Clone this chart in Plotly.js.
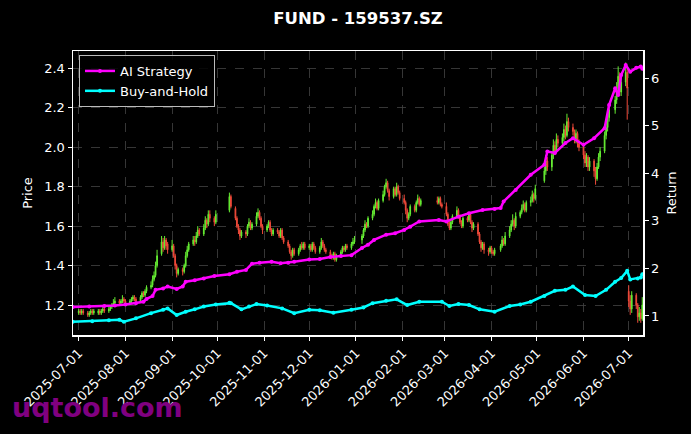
<!DOCTYPE html>
<html>
<head>
<meta charset="utf-8">
<script src="https://cdn.plot.ly/plotly-3.0.1.min.js"></script>
<style>
html,body{margin:0;padding:0;background:#000;}
#chart{width:691px;height:434px;}
</style>
</head>
<body>
<div id="chart"></div>
<script>
// ---------- DATA ----------
const holidays = [
  '2025-10-01','2025-10-02','2025-10-03','2025-10-06','2025-10-07','2025-10-08',
  '2026-01-01','2026-01-02',
  '2026-02-16','2026-02-17','2026-02-18','2026-02-19','2026-02-20','2026-02-23',
  '2026-04-06','2026-05-01','2026-05-04','2026-05-05','2026-06-19'
];
const firstDay = '2025-07-01';
const lastDay = '2026-07-10';

// Daily OHLC (trading days, month by month)
const openP = [
  // Jul 2025
  1.16,1.17,1.16,1.17, 1.16,1.15,1.16,1.17,1.16, 1.16,1.17,1.16,1.17,1.18, 1.17,1.18,1.19,1.20,1.21, 1.22,1.21,1.22,1.23,
  // Aug
  1.22, 1.21,1.22,1.23,1.24,1.23, 1.22,1.24,1.26,1.25,1.27, 1.29,1.30,1.33,1.35,1.40, 1.46,1.52,1.49,1.53,1.51,
  // Sep
  1.48,1.50,1.45,1.40,1.36, 1.38,1.37,1.40,1.45,1.48, 1.51,1.53,1.52,1.55,1.58, 1.56,1.59,1.63,1.61,1.66, 1.64,1.62,
  // Oct
  1.68,1.75, 1.69,1.64,1.60,1.58,1.55, 1.57,1.56,1.60,1.62,1.59, 1.61,1.65,1.67,1.64,1.60,
  // Nov
  1.58,1.60,1.62,1.58,1.56, 1.58,1.57,1.55,1.58,1.54, 1.52,1.50,1.47,1.45,1.48, 1.46,1.48,1.50,1.49,1.51,
  // Dec
  1.49,1.50,1.48,1.51,1.49, 1.47,1.49,1.52,1.50,1.48, 1.47,1.45,1.44,1.46,1.43, 1.45,1.47,1.49,1.48,1.50, 1.49,1.51,1.52,
  // Jan 2026
  1.53,1.55,1.58,1.61,1.60, 1.64,1.66,1.70,1.72,1.69, 1.73,1.76,1.80,1.82,1.78, 1.75,1.79,1.76,1.80,1.77,
  // Feb
  1.74,1.72,1.68,1.64,1.66, 1.70,1.68,1.72,1.74,1.71, 1.73,1.72,1.74,1.71,
  // Mar
  1.70,1.66,1.61,1.59,1.62, 1.65,1.68,1.65,1.62,1.60, 1.64,1.63,1.66,1.62,1.59, 1.61,1.56,1.52,1.49,1.51, 1.48,1.47,
  // Apr
  1.49,1.47,1.46, 1.48,1.50,1.53,1.51, 1.55,1.58,1.61,1.63,1.60, 1.65,1.67,1.69,1.71,1.68, 1.72,1.73,1.76,1.74,
  // May
  1.83,1.88,1.93, 1.90,1.96,2.01,1.98,2.04, 2.02,2.05,2.09,2.06,2.13, 2.10,2.08,2.04,2.07,2.02,
  // Jun
  2.00,1.96,1.92,1.95,1.90, 1.93,1.88,1.84,1.90,1.95, 1.98,2.06,2.10,2.15, 2.19,2.24,2.30,2.36,2.28, 2.33,2.38,
  // Jul
  1.27,1.22,1.18, 1.25,1.20,1.14,1.16,1.13
];
const highP = [
  1.18,1.18,1.18,1.18, 1.17,1.17,1.18,1.18,1.18, 1.18,1.18,1.18,1.19,1.19, 1.19,1.20,1.21,1.23,1.24, 1.23,1.23,1.25,1.24,
  1.23, 1.23,1.24,1.25,1.25,1.24, 1.25,1.27,1.27,1.28,1.30, 1.32,1.35,1.37,1.42,1.48, 1.55,1.54,1.55,1.54,1.52,
  1.53,1.51,1.46,1.41,1.39, 1.39,1.41,1.47,1.50,1.52, 1.55,1.55,1.57,1.60,1.59, 1.61,1.65,1.64,1.68,1.68, 1.65,1.68,
  1.77,1.76, 1.70,1.65,1.61,1.59,1.58, 1.58,1.61,1.64,1.63,1.62, 1.67,1.69,1.68,1.65,1.61,
  1.61,1.63,1.63,1.59,1.59, 1.59,1.58,1.59,1.59,1.55, 1.53,1.51,1.48,1.49,1.49, 1.49,1.51,1.52,1.52,1.52,
  1.51,1.51,1.52,1.52,1.50, 1.50,1.54,1.53,1.51,1.49, 1.48,1.46,1.47,1.47,1.46, 1.48,1.50,1.50,1.51,1.51, 1.52,1.54,1.55,
  1.56,1.59,1.63,1.62,1.65, 1.68,1.71,1.74,1.73,1.74, 1.78,1.81,1.84,1.83,1.79, 1.80,1.80,1.82,1.81,1.78,
  1.76,1.73,1.69,1.67,1.71, 1.71,1.73,1.76,1.75,1.74, 1.75,1.75,1.75,1.72,
  1.72,1.67,1.63,1.63,1.66, 1.70,1.69,1.66,1.63,1.65, 1.65,1.67,1.67,1.63,1.62, 1.62,1.57,1.53,1.52,1.52, 1.49,1.50,
  1.50,1.48,1.49, 1.51,1.55,1.54,1.57, 1.60,1.63,1.66,1.64,1.67, 1.68,1.71,1.73,1.72,1.73, 1.75,1.78,1.77,1.81,
  1.90,1.96,1.95, 1.98,2.04,2.03,2.07,2.06, 2.07,2.12,2.11,2.17,2.15, 2.12,2.09,2.09,2.08,2.04,
  2.02,1.98,1.97,1.96,1.95, 1.94,1.90,1.92,1.97,2.00, 2.08,2.13,2.17,2.22, 2.26,2.33,2.41,2.38,2.35, 2.43,2.40,
  1.30,1.25,1.27, 1.26,1.21,1.19,1.18,1.24
];
const lowP = [
  1.15,1.15,1.15,1.15, 1.14,1.14,1.15,1.15,1.15, 1.15,1.15,1.15,1.16,1.16, 1.16,1.17,1.18,1.19,1.20, 1.20,1.20,1.21,1.21,
  1.20, 1.20,1.21,1.22,1.22,1.21, 1.21,1.23,1.24,1.24,1.26, 1.28,1.29,1.32,1.34,1.39, 1.45,1.47,1.48,1.48,1.46,
  1.47,1.44,1.38,1.34,1.35, 1.35,1.36,1.39,1.44,1.47, 1.50,1.50,1.51,1.54,1.55, 1.55,1.58,1.59,1.60,1.62, 1.60,1.61,
  1.67,1.69, 1.63,1.59,1.56,1.53,1.54, 1.54,1.55,1.59,1.58,1.58, 1.60,1.64,1.63,1.59,1.56,
  1.57,1.59,1.57,1.55,1.55, 1.56,1.54,1.54,1.53,1.51, 1.49,1.46,1.43,1.44,1.45, 1.45,1.47,1.48,1.48,1.48,
  1.48,1.47,1.47,1.48,1.46, 1.46,1.48,1.49,1.47,1.46, 1.44,1.43,1.43,1.42,1.42, 1.44,1.46,1.47,1.47,1.48, 1.48,1.50,1.51,
  1.51,1.54,1.57,1.59,1.59, 1.63,1.65,1.69,1.68,1.68, 1.72,1.75,1.79,1.77,1.73, 1.74,1.75,1.75,1.76,1.73,
  1.71,1.66,1.62,1.63,1.65, 1.67,1.67,1.71,1.70,1.70, 1.71,1.71,1.70,1.69,
  1.65,1.60,1.58,1.58,1.61, 1.64,1.64,1.61,1.59,1.59, 1.62,1.62,1.61,1.57,1.58, 1.55,1.51,1.47,1.48,1.46, 1.45,1.46,
  1.46,1.45,1.45, 1.47,1.49,1.50,1.50, 1.54,1.57,1.60,1.58,1.59, 1.64,1.66,1.68,1.67,1.67, 1.70,1.72,1.72,1.73,
  1.82,1.86,1.88, 1.88,1.94,1.96,1.97,2.00, 2.00,2.03,2.04,2.05,2.08, 2.06,2.02,2.02,2.00,1.98,
  1.94,1.90,1.90,1.88,1.88, 1.85,1.81,1.83,1.89,1.93, 1.97,2.04,2.08,2.13, 2.17,2.22,2.28,2.26,2.26, 2.31,2.14,
  1.19,1.15,1.16, 1.18,1.11,1.12,1.11,1.12
];
const closeP = [
  1.17,1.16,1.17,1.16, 1.15,1.16,1.17,1.16,1.17, 1.17,1.16,1.17,1.18,1.17, 1.18,1.19,1.20,1.21,1.22, 1.21,1.22,1.23,1.22,
  1.21, 1.22,1.23,1.24,1.23,1.22, 1.24,1.26,1.25,1.27,1.29, 1.30,1.33,1.35,1.40,1.45, 1.52,1.49,1.53,1.50,1.48,
  1.50,1.45,1.40,1.36,1.38, 1.37,1.40,1.45,1.48,1.51, 1.53,1.52,1.55,1.58,1.56, 1.59,1.63,1.61,1.66,1.64, 1.62,1.66,
  1.75,1.70, 1.64,1.60,1.58,1.55,1.57, 1.56,1.60,1.62,1.59,1.61, 1.65,1.67,1.64,1.60,1.58,
  1.60,1.62,1.58,1.56,1.58, 1.57,1.55,1.58,1.54,1.52, 1.50,1.47,1.45,1.48,1.46, 1.48,1.50,1.49,1.51,1.49,
  1.50,1.48,1.51,1.49,1.47, 1.49,1.52,1.50,1.48,1.47, 1.45,1.44,1.46,1.43,1.45, 1.47,1.49,1.48,1.50,1.49, 1.51,1.52,1.53,
  1.55,1.58,1.61,1.60,1.64, 1.66,1.70,1.72,1.69,1.73, 1.76,1.80,1.82,1.78,1.75, 1.79,1.76,1.80,1.77,1.74,
  1.72,1.68,1.64,1.66,1.70, 1.68,1.72,1.74,1.71,1.73, 1.72,1.74,1.71,1.70,
  1.66,1.61,1.59,1.62,1.65, 1.68,1.65,1.62,1.60,1.64, 1.63,1.66,1.62,1.59,1.61, 1.56,1.52,1.49,1.51,1.48, 1.47,1.49,
  1.47,1.46,1.48, 1.50,1.53,1.51,1.55, 1.58,1.61,1.63,1.60,1.65, 1.67,1.69,1.71,1.68,1.72, 1.73,1.76,1.74,1.79,
  1.88,1.93,1.90, 1.96,2.01,1.98,2.04,2.02, 2.05,2.09,2.06,2.13,2.10, 2.08,2.04,2.07,2.02,2.00,
  1.96,1.92,1.95,1.90,1.93, 1.88,1.84,1.90,1.95,1.98, 2.06,2.10,2.15,2.19, 2.24,2.30,2.36,2.28,2.33, 2.38,2.30,
  1.22,1.18,1.25, 1.20,1.14,1.16,1.13,1.20
];

// Strategy returns (right axis)
const aiDates = ['2025-06-27','2025-07-08','2025-07-18','2025-07-25','2025-08-01','2025-08-08','2025-08-13','2025-08-15','2025-08-19','2025-08-21','2025-08-26','2025-08-29','2025-09-04','2025-09-08','2025-09-10','2025-09-16','2025-09-22','2025-09-29','2025-10-09','2025-10-14','2025-10-20','2025-10-24','2025-10-29','2025-11-06','2025-11-12','2025-11-17','2025-11-21','2025-12-01','2025-12-08','2025-12-15','2025-12-22','2025-12-29','2026-01-05','2026-01-09','2026-01-13','2026-01-21','2026-01-27','2026-02-02','2026-02-06','2026-02-12','2026-02-25','2026-03-02','2026-03-10','2026-03-17','2026-03-26','2026-04-03','2026-04-07','2026-04-09','2026-04-17','2026-04-27','2026-05-06','2026-05-08','2026-05-13','2026-05-20','2026-05-25','2026-06-01','2026-06-08','2026-06-15','2026-06-18','2026-06-22','2026-06-24','2026-06-26','2026-06-29','2026-07-02','2026-07-06','2026-07-09','2026-07-10'];
const aiValues = [1.19,1.20,1.21,1.22,1.24,1.27,1.30,1.36,1.42,1.55,1.58,1.62,1.57,1.62,1.72,1.75,1.79,1.84,1.88,1.93,1.97,2.10,2.12,2.14,2.11,2.12,2.14,2.19,2.20,2.24,2.26,2.28,2.43,2.50,2.60,2.71,2.74,2.81,2.88,2.99,3.02,2.99,3.09,3.16,3.23,3.25,3.27,3.41,3.65,3.97,4.18,4.46,4.43,4.64,4.74,4.60,4.74,4.95,5.44,5.79,5.65,6.07,6.28,6.14,6.22,6.25,6.20];

const bhDates = ['2025-06-27','2025-07-10','2025-07-21','2025-07-28','2025-07-31','2025-08-08','2025-08-18','2025-08-26','2025-08-29','2025-09-04','2025-09-10','2025-09-16','2025-09-22','2025-09-30','2025-10-09','2025-10-10','2025-10-17','2025-10-22','2025-10-27','2025-11-03','2025-11-13','2025-11-21','2025-12-01','2025-12-08','2025-12-17','2025-12-29','2026-01-06','2026-01-12','2026-01-21','2026-01-28','2026-02-04','2026-02-12','2026-02-27','2026-03-04','2026-03-10','2026-03-17','2026-03-24','2026-04-03','2026-04-13','2026-04-20','2026-04-27','2026-05-06','2026-05-13','2026-05-20','2026-05-25','2026-06-02','2026-06-09','2026-06-16','2026-06-22','2026-06-26','2026-06-30','2026-07-02','2026-07-07','2026-07-09','2026-07-10'];
const bhValues = [0.88,0.89,0.91,0.92,0.88,0.95,1.06,1.13,1.16,1.02,1.09,1.14,1.20,1.24,1.28,1.27,1.14,1.20,1.25,1.22,1.16,1.06,1.13,1.12,1.07,1.13,1.18,1.27,1.32,1.35,1.23,1.30,1.30,1.21,1.25,1.23,1.14,1.09,1.21,1.24,1.30,1.42,1.53,1.55,1.62,1.44,1.42,1.55,1.72,1.80,1.95,1.77,1.79,1.81,1.88];

const xTicks = ['2025-07-01','2025-08-01','2025-09-01','2025-10-01','2025-11-01','2025-12-01','2026-01-01','2026-02-01','2026-03-01','2026-04-01','2026-05-01','2026-06-01','2026-07-01'];

// ---------- trading calendar ----------
function tradingDays(start, end, hol) {
  const out = [];
  const hs = new Set(hol);
  let d = new Date(start + 'T00:00:00Z');
  const e = new Date(end + 'T00:00:00Z');
  while (d <= e) {
    const wd = d.getUTCDay();
    const s = d.toISOString().slice(0, 10);
    if (wd !== 0 && wd !== 6 && !hs.has(s)) out.push(s);
    d = new Date(d.getTime() + 86400000);
  }
  return out;
}
const days = tradingDays(firstDay, lastDay, holidays);
const n = Math.min(days.length, openP.length, highP.length, lowP.length, closeP.length);

const FONT = 'DejaVu Sans, Liberation Sans, sans-serif';

const traces = [
  {
    type: 'candlestick',
    x: days.slice(0, n),
    open: openP.slice(0, n), high: highP.slice(0, n), low: lowP.slice(0, n), close: closeP.slice(0, n),
    xaxis: 'x', yaxis: 'y',
    increasing: {line: {color: '#66EE33', width: 1}, fillcolor: '#66EE33'},
    decreasing: {line: {color: '#F04A3A', width: 1}, fillcolor: '#F04A3A'},
    showlegend: false, hoverinfo: 'skip'
  },
  {
    type: 'scatter', mode: 'lines+markers', name: 'AI Strategy',
    x: aiDates, y: aiValues, yaxis: 'y2',
    line: {color: '#FF00FF', width: 2.5}, marker: {color: '#FF00FF', size: 4}
  },
  {
    type: 'scatter', mode: 'lines+markers', name: 'Buy-and-Hold',
    x: bhDates, y: bhValues, yaxis: 'y2',
    line: {color: '#00FFFF', width: 2.5}, marker: {color: '#00FFFF', size: 4}
  }
];

const layout = {
  width: 691, height: 434,
  margin: {l: 73, r: 48, t: 51, b: 99, pad: 0},
  paper_bgcolor: '#000', plot_bgcolor: '#000',
  font: {family: FONT, color: '#fff', size: 13},
  hovermode: false,
  title: {text: '<b>FUND - 159537.SZ</b>', font: {family: FONT, size: 16.5, color: '#fff'},
          x: 0.5, xref: 'paper', xanchor: 'center', y: 1 - 18/434, yref: 'container', yanchor: 'middle'},
  xaxis: {
    type: 'date', range: ['2025-06-27 05:00', '2026-07-10 11:30'],
    tickvals: xTicks, ticktext: xTicks, tickangle: -45,
    ticks: 'outside', ticklen: 4, tickcolor: '#fff', tickwidth: 1,
    showline: true, linecolor: '#fff', linewidth: 1.5, mirror: true,
    showgrid: true, gridcolor: '#444', griddash: 'dash', gridwidth: 0.8,
    rangeslider: {visible: false}, zeroline: false,
    tickfont: {size: 13, color: '#fff'}
  },
  yaxis: {
    range: [1.048, 2.488], tickvals: [1.2,1.4,1.6,1.8,2.0,2.2,2.4], tickformat: '.1f',
    ticks: 'outside', ticklen: 4, tickcolor: '#fff',
    showline: true, linecolor: '#fff', linewidth: 1.5, mirror: true,
    showgrid: true, gridcolor: '#444', griddash: 'dash', gridwidth: 0.8, zeroline: false,
    title: {text: 'Price', font: {size: 13, color: '#fff'}, standoff: 8},
    tickfont: {size: 13, color: '#fff'}
  },
  yaxis2: {
    overlaying: 'y', side: 'right', range: [0.6, 6.575], tickvals: [1,2,3,4,5,6],
    ticks: 'outside', ticklen: 4, tickcolor: '#fff',
    showline: true, linecolor: '#fff', linewidth: 1.5,
    showgrid: false, zeroline: false,
    title: {text: 'Return', font: {size: 13, color: '#fff'}, standoff: 8},
    tickfont: {size: 13, color: '#fff'}
  },
  legend: {
    x: 0.0105, y: 0.986, xanchor: 'left', yanchor: 'top',
    bgcolor: 'rgba(0,0,0,0.85)', bordercolor: '#bbb', borderwidth: 1,
    font: {size: 13, color: '#fff'}, itemwidth: 30, tracegroupgap: 0
  },
  annotations: [{
    text: '<b>uqtool.com</b>', xref: 'paper', yref: 'paper',
    x: -0.1105, y: -0.257, xanchor: 'left', yanchor: 'middle', showarrow: false,
    font: {family: FONT, size: 27, color: '#800080'}
  }]
};

Plotly.newPlot('chart', traces, layout, {displayModeBar: false, staticPlot: true});
</script>
</body>
</html>
